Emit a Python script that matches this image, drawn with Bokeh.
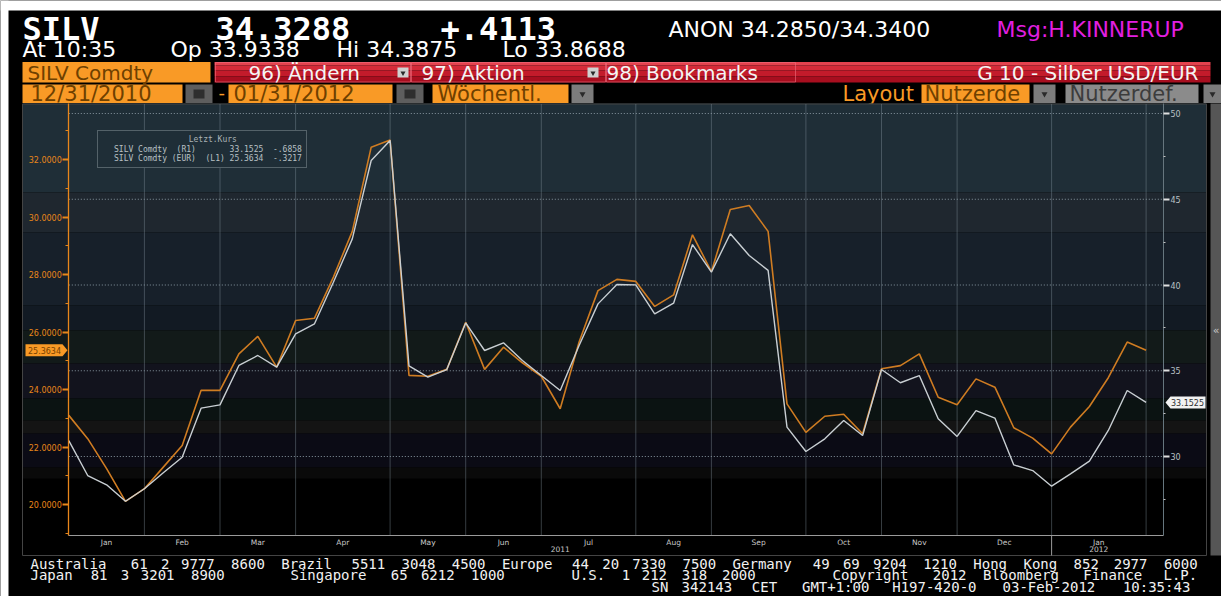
from bokeh.plotting import figure
from bokeh.models import Range1d, LinearAxis, FixedTicker, Legend, LegendItem, PrintfTickFormatter
from bokeh.embed import file_html
from bokeh.resources import INLINE
from bokeh.core.properties import value

# ---------------- data (weekly, 31.12.2010 .. 03.02.2012) ----------------
weeks = list(range(58))
silv_usd = [30.93, 28.89, 28.35, 27.39, 28.12, 29.05, 29.96, 32.82, 33.01, 35.31,
            35.89, 35.21, 37.15, 37.74, 40.16, 42.69, 47.26, 48.43, 35.29, 34.63,
            35.07, 37.79, 36.18, 36.63, 35.60, 34.72, 33.85, 36.47, 38.90, 40.03,
            40.01, 38.32, 38.94, 42.36, 40.75, 42.99, 41.72, 40.85, 31.71, 30.29,
            31.03, 32.10, 31.22, 35.07, 34.30, 34.72, 32.20, 31.17, 32.68, 32.24,
            29.51, 29.18, 28.27, 28.99, 29.73, 31.52, 33.85, 33.1525]
silv_eur = [23.10, 22.29, 21.25, 20.11, 20.55, 21.30, 22.05, 23.97, 23.97, 25.24,
            25.85, 24.78, 26.40, 26.48, 27.91, 29.50, 32.43, 32.68, 24.49, 24.46,
            24.70, 26.34, 24.70, 25.47, 24.93, 24.46, 23.33, 25.65, 27.44, 27.83,
            27.76, 26.89, 27.29, 29.38, 28.10, 30.26, 30.40, 29.50, 23.50, 22.51,
            23.07, 23.14, 22.46, 24.72, 24.83, 25.24, 23.73, 23.47, 24.37, 24.08,
            22.67, 22.31, 21.76, 22.69, 23.41, 24.41, 25.65, 25.3634]
month_bounds = [0, 4, 8, 12, 17, 21, 25, 30, 34, 39, 43, 47, 52, 57]
month_labels = ["Jan", "Feb", "Mar", "Apr", "May", "Jun", "Jul", "Aug", "Sep",
                "Oct", "Nov", "Dec", "Jan"]
year_bounds = [0, 52, 57]
year_labels = ["2011", "2012"]
eur_ticks = [20, 22, 24, 26, 28, 30, 32]
usd_ticks = [30, 35, 40, 45, 50]
legend_title = "Letzt.Kurs"
legend_rows = ["SILV Comdty  (R1)       33.1525  -.6858",
               "SILV Comdty (EUR)  (L1) 25.3634  -.3217"]

# ---------------- geometry / styling ----------------
W, H = 1221, 596
X0, DX = 68.3, 18.9          # pixel of week 0, pixels per week
def ix(px): return (px - X0) / DX
def ve(py): return 20 + (504 - py) / 28.75
def vu(py): return 30 + (456 - py) / 17.15

ORANGE = "#f99a26"
EUR_LINE = "#cf7c22"
USD_LINE = "#c9cfd3"
AX_OR = "#e8861a"
GRID = "#8796a0"
BOXTXT = "#6e4000"
NB = "\u00a0"

p = figure(width=W, height=H, x_range=Range1d(ix(0), ix(W)), y_range=Range1d(ve(H), ve(0)),
           output_backend="svg", toolbar_location=None, min_border=0,
           x_axis_location=None, y_axis_location=None, background_fill_color="black",
           border_fill_color="black", outline_line_color=None)
p.extra_y_ranges = {"usd": Range1d(vu(H), vu(0))}
p.xgrid.visible = False
p.ygrid.visible = False

def T(px, py, s, size, color, font="DejaVu Sans", style="normal", align="left"):
    p.text(x=[ix(px)], y=[ve(py)], text=[s], text_font=value(font), text_font_size=size,
           text_color=color, text_font_style=style, text_align=align, text_baseline="middle")

def box(l, r, t, b, fill, line=None, alpha=1.0):
    p.quad(left=[ix(l)], right=[ix(r)], top=[ve(t)], bottom=[ve(b)], fill_color=fill,
           line_color=line, line_alpha=alpha)

def tri(px, py, size, color="#2a2a2a"):
    p.scatter(x=[ix(px)], y=[ve(py)], marker="inverted_triangle", size=size,
              fill_color=color, line_color=None)

# page margins (white) of the screenshot
box(0, 8, 0, H, "white")
box(0, W, 0, 10, "white")

# ---------------- header ----------------
T(22, 28, "SILV", "32px", "white", font="DejaVu Sans Mono", style="bold")
T(215, 28, "34.3288", "32px", "white", font="DejaVu Sans Mono", style="bold")
T(440, 28, "+.4113", "32px", "white", font="DejaVu Sans Mono", style="bold")
T(668, 29, "ANON 34.2850/34.3400", "22px", "white")
T(996, 29, "Msg:H.KINNERUP", "22px", "#e21fe0")
T(22, 48.5, "At 10:35", "22px", "white")
T(170, 48.5, "Op 33.9338", "22px", "white")
T(336, 48.5, "Hi 34.3875", "22px", "white")
T(502, 48.5, "Lo 33.8688", "22px", "white")
# row 3
box(22, 210, 61.5, 82, ORANGE)
T(27, 72, "SILV Comdty", "20px", BOXTXT)
for (t0, t1, c) in [(61.5, 65, "#e4424e"), (65, 70, "#d52b39"), (70, 76, "#c31b2b"), (76, 82, "#a80e1f")]:
    box(214, 1210, t0, t1, c)
for (l, r) in [(215, 410), (411, 605), (606, 795)]:
    p.quad(left=[ix(l)], right=[ix(r)], top=[ve(62)], bottom=[ve(81.5)], fill_color=None,
           line_color="#f07080", line_alpha=0.6)
for l in [397, 587]:
    box(l, l + 11, 67, 77, "#d0d0d0")
    tri(l + 5.5, 72.5, 5)
T(248, 72, "96) Ändern", "20px", "#f4f4f4")
T(421, 72, "97) Aktion", "20px", "#f4f4f4")
T(606, 72, "98) Bookmarks", "20px", "#f4f4f4")
T(1198, 72, "G 10 - Silber USD/EUR", "20px", "#f4f4f4", align="right")
# row 4
box(22, 182, 84, 102.5, ORANGE)
T(30, 93.5, "12/31/2010", "21px", BOXTXT)
T(218, 92, "-", "18px", ORANGE)
box(228, 392, 84, 102.5, ORANGE)
T(233, 93.5, "01/31/2012", "21px", BOXTXT)
for l in [185, 396]:
    box(l, l + 27, 84, 102.5, "#5e5e5e")
    box(l + 8, l + 19, 89, 98, "#2e2e2e")
box(432, 568, 84, 102.5, ORANGE)
T(437, 93.5, "Wöchentl.", "21px", BOXTXT)
for (l, r) in [(571, 593), (1033, 1055), (1203, 1221)]:
    box(l, r, 84, 102.5, "#7c7c7c")
    tri((l + r) / 2, 93.5, 6)
T(842, 93.5, "Layout", "21px", ORANGE)
box(921, 1029, 84, 102.5, ORANGE)
T(924, 93.5, "Nutzerde", "21px", BOXTXT)
box(1065, 1198, 84, 102.5, "#8b8b8b")
T(1069, 93.5, "Nutzerdef.", "21px", "#3c3c3c")

# ---------------- chart panel ----------------
bands = [(103, 192, "#1f2e37"), (192, 232, "#1f272f"), (232, 305, "#17202a"),
         (305, 330, "#121a23"), (330, 363, "#121a19"), (363, 398, "#12131d"),
         (398, 420, "#0b1312"), (420, 433, "#141414"), (433, 467, "#0b0b15"),
         (467, 478, "#0a0a0a")]
for (t, b, c) in bands:
    box(22, 1206, t, b, c)
p.quad(left=[ix(22)], right=[ix(1206)], top=[ve(103.5)], bottom=[ve(555)], fill_color=None,
       line_color="#444444")
box(1210, 1221, 103, 555, "#565656")
T(1215.5, 330, "«", "11px", "#c8c8c8", align="center")

# grid
xr = ix(1163)
p.segment(x0=[0] * len(usd_ticks), x1=[xr] * len(usd_ticks), y0=usd_ticks, y1=usd_ticks,
          y_range_name="usd", line_color=GRID, line_dash="1 2", line_width=1)
vb = month_bounds[1:]
p.segment(x0=vb, x1=vb, y0=[ve(535)] * len(vb), y1=[ve(103)] * len(vb),
          line_color=GRID, line_dash="1 1", line_width=1, line_alpha=0.8)

# data lines
p.line(weeks, silv_eur, line_color=EUR_LINE, line_width=1.6)
p.line(weeks, silv_usd, line_color=USD_LINE, line_width=1.4, y_range_name="usd")

# axes
ax_l = LinearAxis(fixed_location=0, bounds=(ve(535), ve(103)),
                  ticker=FixedTicker(ticks=eur_ticks, minor_ticks=list(range(19, 34))),
                  formatter=PrintfTickFormatter(format="%.4f"),
                  axis_line_color=AX_OR, axis_line_width=1.3,
                  major_tick_line_color=AX_OR, major_tick_out=6, major_tick_in=0, major_tick_line_width=2,
                  minor_tick_line_color=AX_OR, minor_tick_out=3, minor_tick_in=0,
                  major_label_text_color=AX_OR, major_label_text_font_size="8px",
                  major_label_text_font="DejaVu Sans", major_label_standoff=1)
p.add_layout(ax_l, "left")
ax_r = LinearAxis(y_range_name="usd", fixed_location=xr, bounds=(vu(535), vu(103)),
                  ticker=FixedTicker(ticks=usd_ticks, minor_ticks=[27.5, 32.5, 37.5, 42.5, 47.5]),
                  axis_line_color="#66767e", major_tick_line_color="#e0e0e0", major_tick_out=6,
                  major_tick_in=0, major_tick_line_width=2, minor_tick_line_color="#c0c0c0",
                  minor_tick_out=2, minor_tick_in=0, major_label_text_color="#b8c0c4",
                  major_label_text_font_size="8px", major_label_text_font="DejaVu Sans",
                  major_label_standoff=1)
p.add_layout(ax_r, "right")
mids = [(month_bounds[k] + month_bounds[k + 1]) / 2 for k in range(len(month_labels))]
ax_m = LinearAxis(fixed_location=ve(535), bounds=(0, xr), ticker=FixedTicker(ticks=mids),
                  major_label_overrides={m: s for m, s in zip(mids, month_labels)},
                  axis_line_color="#9a9a9a", major_tick_out=0, major_tick_in=0,
                  minor_tick_out=0, minor_tick_in=0, major_label_text_color="#c8c8c8",
                  major_label_text_font_size="7.5px", major_label_text_font="DejaVu Sans",
                  major_label_standoff=2)
p.add_layout(ax_m, "below")
ymids = [(year_bounds[k] + year_bounds[k + 1]) / 2 for k in range(len(year_labels))]
ax_y = LinearAxis(fixed_location=ve(545), ticker=FixedTicker(ticks=ymids),
                  major_label_overrides={m: s for m, s in zip(ymids, year_labels)},
                  axis_line_color=None, major_tick_out=0, major_tick_in=0,
                  minor_tick_out=0, minor_tick_in=0, major_label_text_color="#c8c8c8",
                  major_label_text_font_size="7.5px", major_label_text_font="DejaVu Sans",
                  major_label_standoff=0)
p.add_layout(ax_y, "below")
p.segment(x0=[year_bounds[1]], x1=[year_bounds[1]], y0=[ve(535)], y1=[ve(555)], line_color="#9a9a9a")

# last value tags
le, lu = silv_eur[-1], silv_usd[-1]
he, hu = 6 / 28.75, 6 / 17.15
p.patch(x=[ix(25), ix(62), ix(67), ix(62), ix(25)], y=[le + he, le + he, le, le - he, le - he],
        fill_color=ORANGE, line_color=None)
p.text(x=[ix(44)], y=[le], text=["%.4f" % le], text_font=value("DejaVu Sans"), text_font_size="8px",
       text_color="#7a4200", text_align="center", text_baseline="middle")
p.patch(x=[ix(1165), ix(1170), ix(1205), ix(1205), ix(1170)], y=[lu, lu + hu, lu + hu, lu - hu, lu - hu],
        fill_color="#f2f2f2", line_color=None, y_range_name="usd")
p.text(x=[ix(1187)], y=[lu], text=["%.4f" % lu], text_font=value("DejaVu Sans"), text_font_size="8px",
       text_color="#303030", text_align="center", text_baseline="middle", y_range_name="usd")

# legend
sw = p.quad(left=[], right=[], top=[], bottom=[], fill_color="white", line_color=None)
so = p.quad(left=[], right=[], top=[], bottom=[], fill_color=ORANGE, line_color=None)
leg = Legend(items=[LegendItem(label=legend_rows[0].replace(" ", NB), renderers=[sw]),
                    LegendItem(label=legend_rows[1].replace(" ", NB), renderers=[so])],
             location=(97, H - 168), title=NB * 18 + legend_title,
             title_text_font="DejaVu Sans Mono", title_text_font_size="8px",
             title_text_color="#aab2b6", title_text_font_style="normal", title_standoff=1,
             label_text_font="DejaVu Sans Mono", label_text_font_size="8px",
             label_text_color="#b8c0c4", label_height=9, label_standoff=3,
             glyph_width=9, glyph_height=9, spacing=0, padding=4, margin=0,
             background_fill_color="#1f2e37", background_fill_alpha=1.0,
             border_line_color="#8a969c", border_line_width=1)
p.add_layout(leg)

# ---------------- footer ----------------
PITCH = 10.03
def mono_line(s, x, y):
    k = 0
    for tok in s.split(" "):
        if tok:
            T(x + PITCH * k, y, tok, "14px", "#f2f2f2", font="DejaVu Sans Mono")
        k += len(tok) + 1
mono_line("Australia 61 2 9777 8600 Brazil 5511 3048 4500 Europe 44 20 7330 7500 Germany 49 69 9204 1210 Hong Kong 852 2977 6000", 30, 563)
mono_line("Japan 81 3 3201 8900", 30, 574.5)
mono_line("Singapore 65 6212 1000", 290, 574.5)
mono_line("U.S. 1 212 318 2000", 571, 574.5)
mono_line("Copyright 2012 Bloomberg Finance L.P.", 832, 574.5)
mono_line("SN 342143 CET  GMT+1:00 H197-420-0 03-Feb-2012 10:35:43", 651, 586)

open("out.html", "w").write(file_html(p, INLINE))
